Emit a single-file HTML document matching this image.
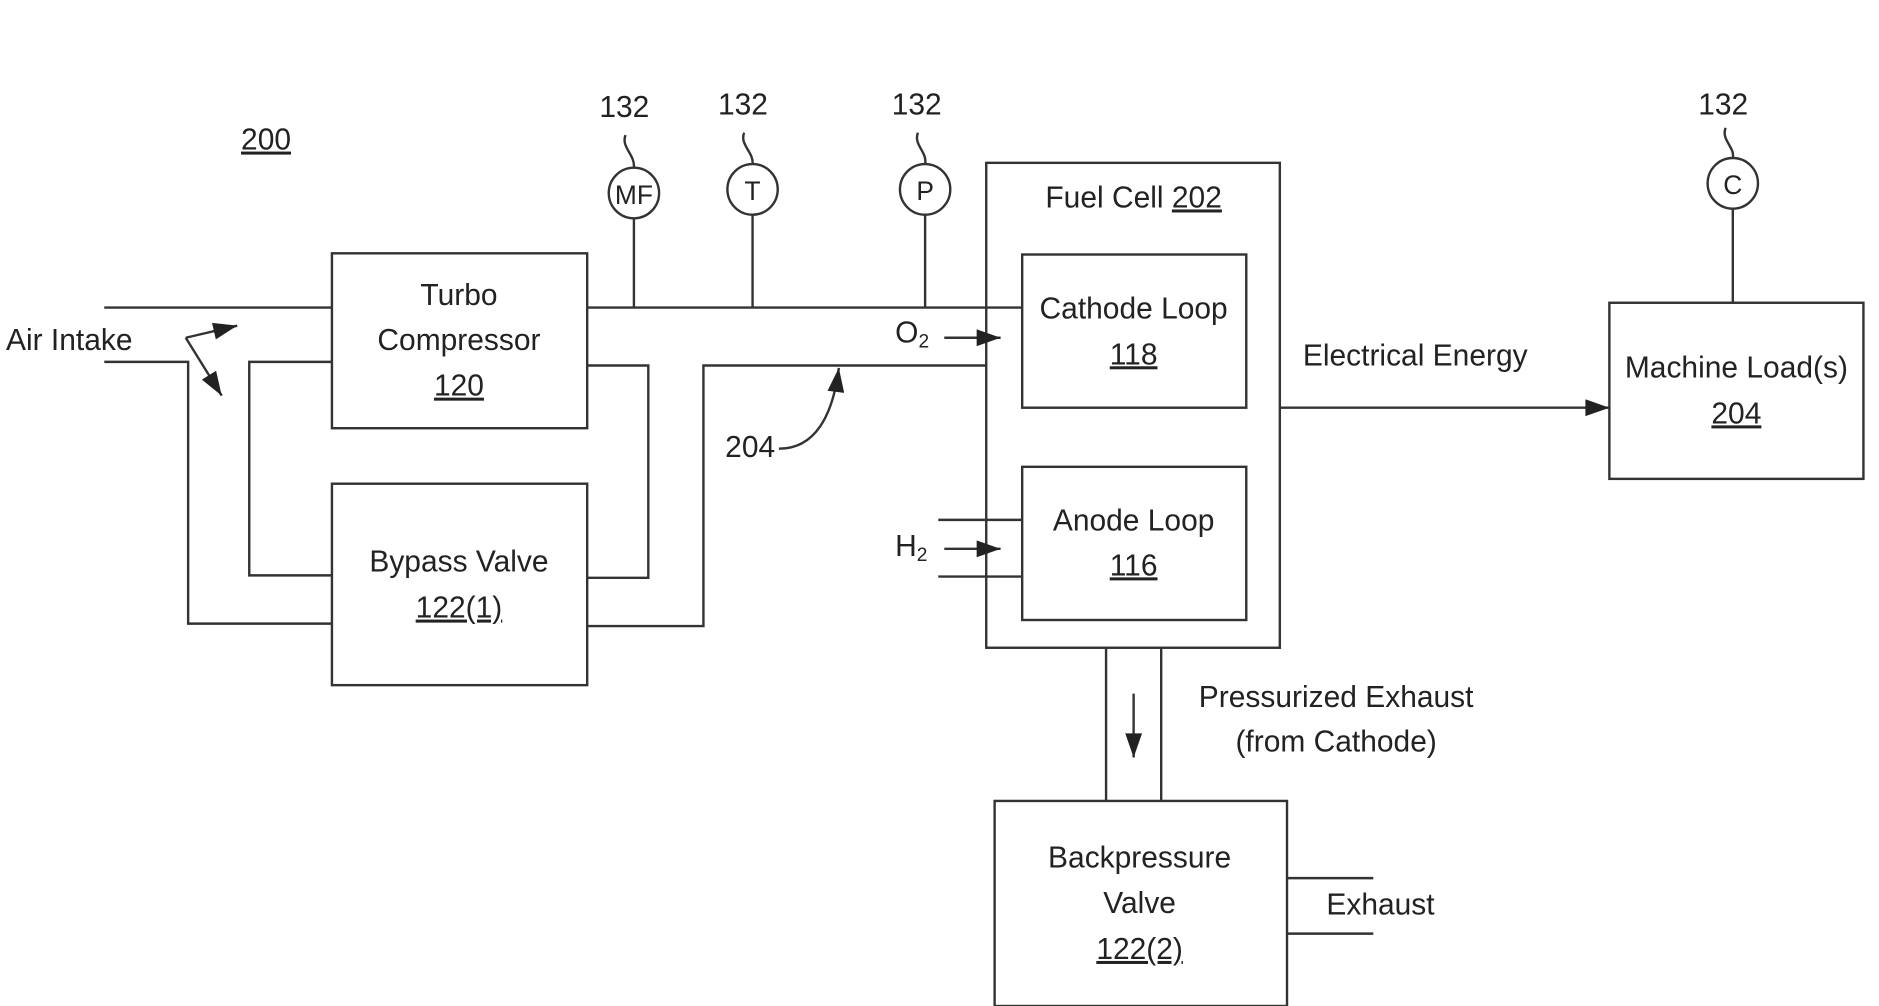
<!DOCTYPE html>
<html><head><style>html,body{margin:0;padding:0;background:#fff;}svg{display:block}</style></head>
<body>
<svg width="1879" height="1006" viewBox="0 0 1568 834" preserveAspectRatio="none" xmlns="http://www.w3.org/2000/svg" font-family="Liberation Sans, sans-serif" font-size="25" fill="#222">
<defs><marker id="a" markerWidth="10" markerHeight="10" refX="9" refY="5" orient="auto" markerUnits="userSpaceOnUse"><path d="M0,0 L22,5 L0,10 Z" transform="scale(0.45,1)" fill="#222"/></marker>
<marker id="b" viewBox="0 0 20 14" markerWidth="22" markerHeight="14" refX="20" refY="7" orient="auto" markerUnits="userSpaceOnUse"><path d="M0,0 L20,7 L0,14 Z" fill="#222"/></marker></defs>
<g stroke="#333" stroke-width="2" fill="none">
<rect x="277" y="210" width="213" height="145"/>
<rect x="277" y="401" width="213" height="167"/>
<rect x="823" y="135" width="245" height="402"/>
<rect x="853" y="211" width="187" height="127"/>
<rect x="853" y="387" width="187" height="127"/>
<rect x="1343" y="251" width="212" height="146"/>
<rect x="830" y="664" width="244" height="170"/>
<path d="M87,255H277 M87,300H157V517H277 M277,300H208V477H277 M490,303H541V479H490 M490,519H587V303H823 M490,255H853"/>
<path d="M529,181V255 M628,178V255 M772,178V255 M1446,173V251"/>
<circle cx="529" cy="160" r="21"/><circle cx="628" cy="157" r="21"/><circle cx="772" cy="157" r="21"/><circle cx="1446" cy="152" r="21"/>
<path d="M522,112 C518,122 530,128 529,139 M621,110 C617,120 629,126 628,136 M766,110 C762,120 774,126 772,136 M1440,106 C1436,116 1448,122 1446,131"/>
<path d="M783,431H853 M783,478H853 M923,537V664 M969,537V664 M1074,728H1146 M1074,774H1146"/>
<path d="M155,280L198,270" marker-end="url(#b)"/>
<path d="M155,280L185,328" marker-end="url(#b)"/>
<path d="M788,280H835" marker-end="url(#b)"/>
<path d="M788,455H835" marker-end="url(#b)"/>
<path d="M1068,338H1343" marker-end="url(#b)"/>
<path d="M946,575V628" marker-end="url(#b)"/>
<path d="M650,372 C680,372 695,345 700,305" marker-end="url(#b)"/>
</g>
<g text-anchor="middle">
<text x="222" y="124" text-decoration="underline">200</text>
<text x="521" y="97">132</text><text x="620" y="95">132</text><text x="765" y="95">132</text><text x="1438" y="95">132</text>
<text x="529" y="169" font-size="22">MF</text><text x="628" y="166" font-size="22">T</text><text x="772" y="166" font-size="22">P</text><text x="1446" y="161" font-size="22">C</text>
<text x="383" y="253">Turbo</text><text x="383" y="290">Compressor</text><text x="383" y="328" text-decoration="underline">120</text>
<text x="383" y="474">Bypass Valve</text><text x="383" y="512" text-decoration="underline">122(1)</text>
<text x="946" y="172">Fuel Cell <tspan text-decoration="underline">202</tspan></text>
<text x="946" y="264">Cathode Loop</text><text x="946" y="302" text-decoration="underline">118</text>
<text x="946" y="440">Anode Loop</text><text x="946" y="477" text-decoration="underline">116</text>
<text x="1181" y="303">Electrical Energy</text>
<text x="1449" y="313">Machine Load(s)</text><text x="1449" y="351" text-decoration="underline">204</text>
<text x="1115" y="586">Pressurized Exhaust</text><text x="1115" y="623">(from Cathode)</text>
<text x="951" y="719">Backpressure</text><text x="951" y="757">Valve</text><text x="951" y="795" text-decoration="underline">122(2)</text>
<text x="1152" y="758">Exhaust</text>
<text x="626" y="379">204</text>
</g>
<text x="5" y="290">Air Intake</text>
<text x="747" y="284">O<tspan font-size="16" dy="4">2</tspan></text>
<text x="747" y="461">H<tspan font-size="16" dy="4">2</tspan></text>
</svg>
</body></html>
